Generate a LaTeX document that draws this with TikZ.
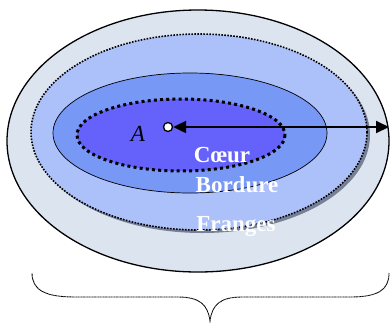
\documentclass[tikz,border=0pt]{standalone}
\usepackage{fontspec}
\setmainfont{Liberation Serif}
\usetikzlibrary{arrows.meta}
\definecolor{franges}{RGB}{220,228,240}
\definecolor{bordure}{RGB}{172,192,250}
\definecolor{milieu}{RGB}{120,152,246}
\definecolor{coeur}{RGB}{100,98,250}
\definecolor{ombre}{RGB}{118,128,150}

\begin{document}
\begin{tikzpicture}[x={(1pt,0pt)}, y={(0pt,-1pt)},
  zone/.style={font=\fontsize{23}{25}\selectfont\bfseries, text=white, inner sep=0pt}]
  \useasboundingbox (0,0) rectangle (390,322);
  % Zones
  \draw[fill=franges, line width=1.3pt] (198,141) ellipse [x radius=191, y radius=131];
  \fill[ombre] (202,135) ellipse [x radius=168, y radius=98];
  \draw[fill=bordure, line width=1.6pt, dash pattern=on 1.6pt off 1.4pt] (199,132) ellipse [x radius=168, y radius=98];
  \draw[fill=milieu, line width=0.7pt] (190,133) ellipse [x radius=137, y radius=60];
  \draw[fill=coeur, line width=3pt, dash pattern=on 3pt off 3.2pt] (181,135) ellipse [x radius=104, y radius=36];

  % Nodes
  \node[draw,circle,fill=white,line width=1.3pt,inner sep=0pt,minimum size=9pt] (pA) at (168,127) {};
  \node[font=\fontsize{23}{25}\selectfont\itshape] (A) at (138,134) {A};
  \coordinate (R) at (389,128);
  \node[zone] (Coeur) at (222,155) {Cœur};
  \node[zone] (Bordure) at (237,185) {Bordure};
  \node[zone] (Franges) at (236,227) {Franges};

  % Edges
  \draw[{Triangle[length=13pt,width=12pt]}-{Triangle[length=13pt,width=12pt]}, line width=2pt]
    (pA.east) -- (R |- pA.east);

  % Brace
  \draw[line width=0.9pt, dash pattern=on 0.7pt off 0.4pt]
    (32,273) .. controls (32,290) and (45,297) .. (75,297) -- (178,297)
    .. controls (200,297) and (208,305) .. (210,321)
    .. controls (212,305) and (220,297) .. (242,297) -- (350,297)
    .. controls (378,297) and (389,290) .. (389,273);
\end{tikzpicture}
\end{document}
